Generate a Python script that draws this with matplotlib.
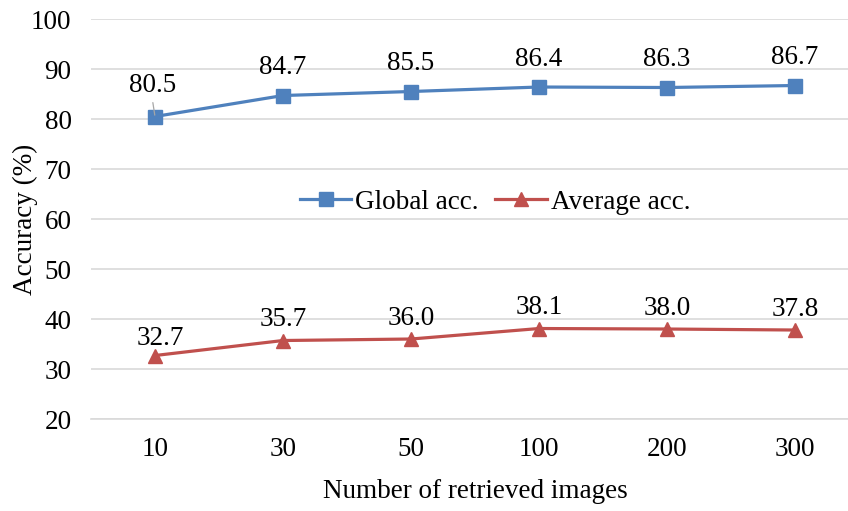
import matplotlib.pyplot as plt

plt.rcParams['font.family'] = ['Liberation Serif', 'DejaVu Serif']

# Accuracy vs number of retrieved images
retrieved = ["10", "30", "50", "100", "200", "300"]
global_acc = [80.5, 84.7, 85.5, 86.4, 86.3, 86.7]
average_acc = [32.7, 35.7, 36.0, 38.1, 38.0, 37.8]

blue = "#4F81BD"
red = "#C0504D"
fs = 19.5

fig = plt.figure(figsize=(8.48, 5.11), dpi=100)
ax = fig.add_axes([0.1073, 0.18, 0.9057, 0.7828])

x = range(len(retrieved))
ax.plot(x, global_acc, color=blue, linewidth=2.3, marker="s",
        markersize=9.5, label="Global acc.", zorder=3)
ax.plot(x, average_acc, color=red, linewidth=2.3, marker="^",
        markersize=10, label="Average acc.", zorder=3)

# data labels
for i, v in enumerate(global_acc):
    if i == 0:
        ax.annotate(f"{v:.1f}", xy=(i, v), xytext=(-2, 22),
                    textcoords="offset points", ha="center", va="center",
                    fontsize=fs,
                    arrowprops=dict(arrowstyle="-", color="#A6A6A6",
                                    lw=0.9, shrinkA=1, shrinkB=1,
                                    relpos=(0.5, 0)))
    else:
        ax.annotate(f"{v:.1f}", xy=(i, v), xytext=(0, 20),
                    textcoords="offset points", ha="center", va="center",
                    fontsize=fs)
for i, v in enumerate(average_acc):
    dx = 4 if i == 0 else 0
    dy = 12.5 if i == 0 else 15
    ax.annotate(f"{v:.1f}", xy=(i, v), xytext=(dx, dy),
                textcoords="offset points", ha="center", va="center",
                fontsize=fs)

ax.set_xlim(-0.5, len(retrieved) - 0.5)
ax.set_ylim(20, 100)
ax.set_yticks(range(20, 101, 10))
ax.set_xticks(list(x))
ax.set_xticklabels(retrieved)
ax.tick_params(axis="both", length=0, labelsize=fs)
ax.tick_params(axis="y", pad=14)
ax.tick_params(axis="x", pad=13)

ax.grid(axis="y", color="#D9D9D9", linewidth=1.2)
ax.set_axisbelow(True)
for s in ["top", "right", "left"]:
    ax.spines[s].set_visible(False)
ax.spines["bottom"].set_color("#D9D9D9")
ax.spines["bottom"].set_linewidth(1.2)

ax.set_ylabel("Accuracy (%)", fontsize=fs)
ax.yaxis.set_label_coords(-0.069, 0.5)
ax.set_xlabel("Number of retrieved images", fontsize=fs, labelpad=12)

ax.legend(loc="center", bbox_to_anchor=(0.526, 0.5425), ncol=2,
          frameon=False, fontsize=fs, handlelength=1.9, columnspacing=0.6,
          handletextpad=0.15, borderpad=0)

fig.savefig("out.png", dpi=100)
